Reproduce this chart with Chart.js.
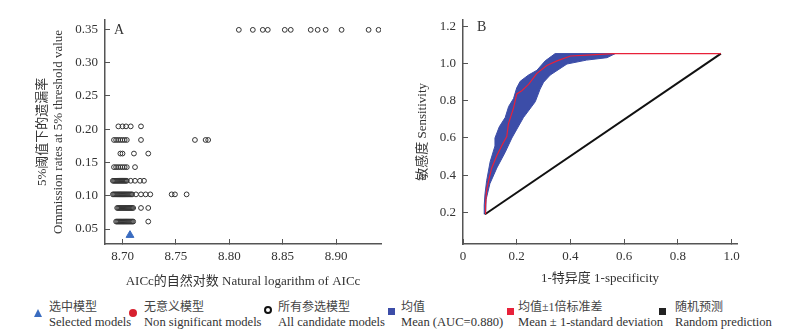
<!DOCTYPE html>
<html>
<head>
<meta charset="utf-8">
<script src="https://cdn.jsdelivr.net/npm/chart.js@4/dist/chart.umd.min.js"></script>
<style>
  body { margin: 0; background: #fff; width: 800px; height: 331px; overflow: hidden; position: relative;
         font-family: "Liberation Serif", "Noto Sans CJK SC", serif; color: #333; }
  canvas { position: absolute; top: 0; }
  #chartA { left: 0; }
  #chartB { left: 395px; }
  .item { position: absolute; top: 300px; font-size: 12.6px; line-height: 15px; white-space: nowrap; }
  .item .zh { font-size: 12px; color: #444; }
  .mk { position: absolute; box-sizing: border-box; }
</style>
</head>
<body>
<canvas id="chartA" width="395" height="290"></canvas>
<canvas id="chartB" width="405" height="290"></canvas>

<!-- legend, shared by both panels -->
<div class="mk" style="left:34px;top:309px;width:0;height:0;border-left:4px solid transparent;border-right:4px solid transparent;border-bottom:8px solid #3a6cc0;"></div>
<div class="item" style="left:49px;"><span class="zh">选中模型</span><br>Selected models</div>
<div class="mk" style="left:129px;top:309px;width:8px;height:8px;border-radius:50%;background:#d7202e;"></div>
<div class="item" style="left:144px;"><span class="zh">无意义模型</span><br>Non significant models</div>
<div class="mk" style="left:264px;top:306px;width:8px;height:8px;border-radius:50%;border:2px solid #111;"></div>
<div class="item" style="left:278px;"><span class="zh">所有参选模型</span><br>All candidate models</div>
<div class="mk" style="left:388px;top:308px;width:7px;height:7px;background:#3c4da8;"></div>
<div class="item" style="left:401px;"><span class="zh">均值</span><br>Mean (AUC=0.880)</div>
<div class="mk" style="left:507px;top:308px;width:7px;height:7px;background:#e8213a;"></div>
<div class="item" style="left:518px;"><span class="zh">均值±1倍标准差</span><br>Mean ± 1-standard deviation</div>
<div class="mk" style="left:659px;top:308px;width:7px;height:7px;background:#222;"></div>
<div class="item" style="left:675px;"><span class="zh">随机预测</span><br>Random prediction</div>

<script>
// ---- Panel A data: omission rate rows and the AICc values on each row ----
const omissionLevels = [0.0612, 0.0816, 0.1020, 0.1224, 0.1429, 0.1633, 0.1837, 0.2041, 0.349];
const aiccByLevel = [
  [8.694, 8.695, 8.696, 8.697, 8.698, 8.699, 8.700, 8.701, 8.702, 8.703, 8.704, 8.705, 8.706, 8.707, 8.708, 8.709, 8.710, 8.7241],
  [8.695, 8.696, 8.697, 8.698, 8.699, 8.700, 8.701, 8.702, 8.703, 8.704, 8.705, 8.706, 8.707, 8.708, 8.709, 8.710, 8.7173, 8.7241],
  [8.691, 8.692, 8.693, 8.694, 8.695, 8.696, 8.697, 8.698, 8.699, 8.700, 8.701, 8.702, 8.703, 8.704, 8.705, 8.706, 8.707, 8.708, 8.709,
   8.7126, 8.7173, 8.7217, 8.7260, 8.7460, 8.7491, 8.7600],
  [8.691, 8.692, 8.693, 8.694, 8.695, 8.696, 8.697, 8.698, 8.699, 8.700, 8.701, 8.702, 8.703, 8.704, 8.7077, 8.7117, 8.7164, 8.7201],
  [8.692, 8.694, 8.696, 8.698, 8.700, 8.702, 8.704, 8.7117],
  [8.698, 8.700, 8.7107, 8.7241],
  [8.692, 8.694, 8.696, 8.698, 8.700, 8.702, 8.704, 8.7173, 8.7678, 8.7778, 8.7802],
  [8.6961, 8.7000, 8.7033, 8.7077, 8.7173],
  [8.8089, 8.8220, 8.8313, 8.8360, 8.8519, 8.8575, 8.8762, 8.8827, 8.8902, 8.9051, 8.9304, 8.9397]
];
const selectedAicc = [8.707];
const selectedOmission = [0.0408];
const aiccTicks = [8.70, 8.75, 8.80, 8.85, 8.90];
const omissionTicks = [0.05, 0.10, 0.15, 0.20, 0.25, 0.30, 0.35];

// ---- Panel B data: ROC curve ----
const meanFpr  = [0.082, 0.084, 0.088, 0.097, 0.107, 0.126, 0.150, 0.163, 0.169, 0.188, 0.200, 0.219, 0.244, 0.275, 0.312, 0.350, 0.400, 0.460, 0.560, 0.960];
const meanSens = [0.193, 0.243, 0.320, 0.380, 0.439, 0.506, 0.574, 0.608, 0.676, 0.761, 0.837, 0.854, 0.888, 0.948, 0.990, 1.015, 1.041, 1.046, 1.054, 1.054];
// band outline: upper edge going up, then lower edge coming back down
const bandFpr  = [0.080, 0.079, 0.082, 0.088, 0.101, 0.119, 0.119, 0.135, 0.157, 0.170, 0.188, 0.200, 0.213, 0.244, 0.275, 0.306, 0.343,
                  0.567, 0.536, 0.460, 0.387, 0.325, 0.300, 0.287, 0.269, 0.225, 0.182, 0.157, 0.126, 0.100, 0.086, 0.084];
const bandSens = [0.190, 0.240, 0.300, 0.370, 0.472, 0.557, 0.600, 0.660, 0.710, 0.770, 0.812, 0.870, 0.905, 0.939, 0.964, 1.015, 1.054,
                  1.054, 1.032, 1.019, 0.998, 0.939, 0.900, 0.863, 0.795, 0.710, 0.600, 0.523, 0.439, 0.354, 0.269, 0.190];
const randomFpr  = [0.082, 0.960];
const randomSens = [0.190, 1.054];
const fprTicks = [0, 0.2, 0.4, 0.6, 0.8, 1.0];
const sensTicks = [0.2, 0.4, 0.6, 0.8, 1.0, 1.2];

const fontFamily = '"Liberation Serif", "Noto Sans CJK SC", serif';
Chart.defaults.font.family = fontFamily;
Chart.defaults.font.size = 13;
Chart.defaults.color = '#333';

const toXY = (xs, ys) => xs.map((x, i) => ({ x: x, y: ys[i] }));

const candidatePoints = [];
aiccByLevel.forEach((row, i) => {
  row.forEach(x => candidatePoints.push({ x: x, y: omissionLevels[i] }));
});

// draws the panel letter in the top-left corner of the plot area
const panelLabel = {
  id: 'panelLabel',
  afterDraw(chart, args, opts) {
    const { ctx, chartArea } = chart;
    ctx.save();
    ctx.font = '14px ' + fontFamily;
    ctx.fillStyle = '#333';
    ctx.textBaseline = 'middle';
    ctx.fillText(opts.text, chartArea.left + opts.dx, chartArea.top + opts.dy);
    ctx.restore();
  }
};

function axisStyle(ticks, extra) {
  return Object.assign({
    type: 'linear',
    afterBuildTicks: axis => { axis.ticks = ticks.map(v => ({ value: v })); },
    grid: { drawOnChartArea: false, tickLength: -5, color: '#555', lineWidth: 1 },
    border: { color: '#555', width: 1.5 }
  }, extra);
}

new Chart(document.getElementById('chartA'), {
  type: 'scatter',
  data: {
    datasets: [
      {
        label: 'Selected models',
        data: toXY(selectedAicc, selectedOmission),
        pointStyle: 'triangle',
        pointRadius: 4.5,
        backgroundColor: '#3a6cc0',
        borderColor: '#3a6cc0',
        borderWidth: 1
      },
      {
        label: 'All candidate models',
        data: candidatePoints,
        pointRadius: 2.4,
        borderWidth: 1,
        borderColor: '#333',
        backgroundColor: 'rgba(0,0,0,0)'
      }
    ]
  },
  options: {
    responsive: false,
    animation: false,
    layout: { padding: { top: 5, right: 14, left: 0, bottom: 0 } },
    plugins: { legend: { display: false }, tooltip: { enabled: false }, panelLabel: { text: 'A', dx: 9, dy: 11 } },
    scales: {
      x: axisStyle(aiccTicks, {
        min: 8.6836, max: 8.942,
        afterFit: s => { s.height = 46; },
        ticks: { padding: 10, callback: v => v.toFixed(2) },
        title: { display: true, text: 'AICc的自然对数 Natural logarithm of AICc', padding: { top: 0, bottom: 1 } }
      }),
      y: axisStyle(omissionTicks, {
        min: 0.0275, max: 0.3641,
        afterFit: s => { s.width = 105; },
        ticks: { padding: 12, callback: v => v.toFixed(2) },
        title: { display: true, text: ['5%阈值下的遗漏率', 'Ommission rates at 5% threshold value'], padding: { top: 35, bottom: 0 } }
      })
    }
  },
  plugins: [panelLabel]
});

new Chart(document.getElementById('chartB'), {
  type: 'line',
  data: {
    datasets: [
      {
        label: 'Mean ± 1-standard deviation',
        data: toXY(meanFpr, meanSens),
        borderColor: '#e8213a',
        borderWidth: 1.2,
        pointRadius: 0,
        fill: false
      },
      {
        label: 'Random prediction',
        data: toXY(randomFpr, randomSens),
        borderColor: '#111',
        borderWidth: 2,
        pointRadius: 0,
        fill: false
      },
      {
        label: 'Mean (AUC=0.880)',
        data: toXY(bandFpr, bandSens),
        borderColor: '#3c4da8',
        backgroundColor: '#3c4da8',
        borderWidth: 1,
        pointRadius: 0,
        fill: 'shape'
      }
    ]
  },
  options: {
    responsive: false,
    animation: false,
    layout: { padding: { top: 8, right: 63, left: 0, bottom: 0 } },
    plugins: { legend: { display: false }, tooltip: { enabled: false }, panelLabel: { text: 'B', dx: 14, dy: 8 } },
    scales: {
      x: axisStyle(fprTicks, {
        min: 0, max: 1.02,
        afterFit: s => { s.height = 46; },
        ticks: { padding: 10, callback: v => v === 0 ? '0' : v.toFixed(1) },
        title: { display: true, text: '1-特异度 1-specificity', padding: { top: 0, bottom: 4 } }
      }),
      y: axisStyle(sensTicks, {
        min: 0.0298, max: 1.2358,
        afterFit: s => { s.width = 68; },
        ticks: { padding: 12, callback: v => v.toFixed(1) },
        title: { display: true, text: '敏感度 Sensitivity', padding: { top: 20, bottom: 0 } }
      })
    }
  },
  plugins: [panelLabel]
});
</script>
</body>
</html>
